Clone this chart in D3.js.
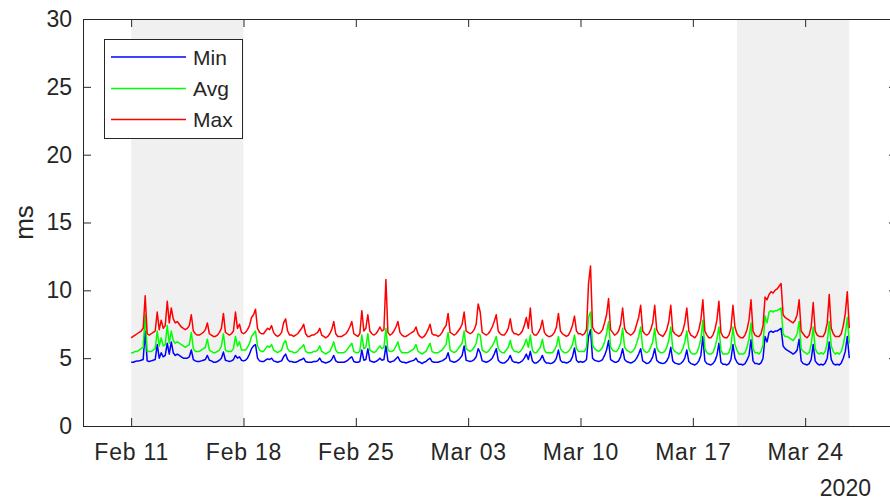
<!DOCTYPE html>
<html>
<head>
<meta charset="utf-8">
<script src="https://cdn.jsdelivr.net/npm/d3@7"></script>
<style>
  html, body { margin: 0; padding: 0; background: #fff; }
  svg { display: block; }
  text { font-family: "Liberation Sans", Arial, Helvetica, sans-serif; fill: #262626; }
</style>
</head>
<body>
<svg id="chart" width="890" height="500"></svg>
<script>
// ---------------- DATA ----------------
// Samples every 3 hours starting 2020-02-11 00:00 (8 per day: 00,03,06,09,12,15,18,21)
const startTime = "2020-02-11T00:00:00Z";
const stepHours = 3;
const seriesNames = ["Min", "Avg", "Max"];

const maxVals = [
  6.5, 6.6, 6.7, 6.8, 6.9, 7.0, 7.2, 9.6,   // Feb 11
  6.8, 6.7, 6.8, 6.9, 7.0, 8.4, 7.1, 7.8,   // Feb 12
  7.2, 7.4, 9.2, 7.6, 8.7, 7.9, 7.6, 7.7,   // Feb 13
  7.5, 7.3, 7.2, 7.1, 7.2, 7.4, 8.2, 7.0,   // Feb 14
  6.8, 6.7, 6.7, 6.8, 6.9, 7.1, 7.6, 6.8,   // Feb 15
  6.7, 6.6, 6.6, 6.7, 6.9, 7.2, 8.3, 6.9,   // Feb 16
  6.8, 6.7, 6.8, 7.0, 8.4, 7.2, 7.5, 6.9,   // Feb 17
  6.8, 6.9, 7.1, 7.4, 8.0, 8.2, 8.6, 7.2,   // Feb 18
  6.9, 6.8, 6.8, 7.0, 7.2, 7.1, 7.4, 6.9,   // Feb 19
  6.7, 6.6, 6.7, 6.9, 7.6, 7.9, 7.0, 6.7,   // Feb 20
  6.7, 6.6, 6.7, 6.8, 7.0, 7.2, 7.5, 6.8,   // Feb 21
  6.6, 6.6, 6.7, 6.7, 6.8, 6.9, 7.2, 6.7,   // Feb 22
  6.6, 6.5, 6.6, 6.8, 7.1, 7.7, 6.8, 6.6,   // Feb 23
  6.6, 6.6, 6.7, 6.8, 7.0, 7.3, 7.7, 6.8,   // Feb 24
  6.7, 6.6, 6.8, 8.5, 7.0, 7.2, 8.2, 7.0,   // Feb 25
  6.8, 6.7, 6.8, 7.0, 7.3, 7.0, 7.1, 10.8,  // Feb 26
  6.9, 6.7, 6.8, 7.0, 7.3, 7.7, 6.9, 6.7,   // Feb 27
  6.6, 6.6, 6.7, 6.8, 6.9, 7.0, 7.3, 6.8,   // Feb 28
  6.6, 6.5, 6.6, 6.8, 7.1, 7.5, 6.8, 6.7,   // Feb 29
  6.7, 6.6, 6.7, 6.9, 7.2, 7.4, 8.3, 6.9,   // Mar 01
  6.8, 6.7, 6.8, 7.0, 7.2, 7.5, 8.4, 7.0,   // Mar 02
  6.9, 6.8, 6.9, 7.1, 7.5, 9.0, 8.4, 6.9,   // Mar 03
  6.8, 6.7, 6.8, 7.0, 7.3, 7.7, 8.2, 7.0,   // Mar 04
  6.8, 6.7, 6.7, 6.9, 7.2, 7.9, 7.0, 6.8,   // Mar 05
  6.8, 6.7, 6.8, 7.0, 7.4, 8.0, 7.2, 8.7,   // Mar 06
  6.9, 6.7, 6.7, 6.9, 7.2, 7.8, 6.9, 6.7,   // Mar 07
  6.6, 6.6, 6.7, 6.9, 7.3, 8.3, 7.0, 6.8,   // Mar 08
  6.7, 6.6, 6.7, 7.0, 7.4, 8.1, 7.0, 6.8,   // Mar 09
  6.8, 6.7, 6.8, 7.1, 10.5, 11.8, 7.3, 7.0, // Mar 10
  6.9, 6.8, 6.9, 7.1, 7.6, 8.2, 9.4, 7.1,   // Mar 11
  6.9, 6.7, 6.8, 7.0, 7.5, 8.7, 7.2, 6.9,   // Mar 12
  6.8, 6.7, 6.8, 7.0, 7.5, 8.0, 8.9, 7.0,   // Mar 13
  6.8, 6.7, 6.8, 7.1, 7.6, 8.9, 7.1, 6.8,   // Mar 14
  6.7, 6.6, 6.8, 7.1, 7.7, 8.9, 7.0, 6.8,   // Mar 15
  6.7, 6.6, 6.7, 7.0, 7.6, 8.7, 7.0, 6.7,   // Mar 16
  6.6, 6.5, 6.7, 7.1, 7.8, 9.3, 7.0, 6.7,   // Mar 17
  6.5, 6.5, 6.7, 7.1, 7.8, 9.2, 6.9, 6.6,   // Mar 18
  6.5, 6.5, 6.7, 7.2, 8.9, 7.3, 6.8, 6.6,   // Mar 19
  6.5, 6.5, 6.7, 7.1, 7.8, 9.3, 7.0, 6.7,   // Mar 20
  6.6, 6.6, 6.8, 7.4, 9.5, 9.3, 9.7, 9.9,   // Mar 21
  9.8, 10.0, 10.1, 10.3, 10.5, 8.2, 8.0, 7.9, // Mar 22
  7.8, 7.7, 7.6, 7.8, 8.2, 9.3, 7.0, 6.8,   // Mar 23
  6.6, 6.5, 6.7, 7.3, 9.1, 7.0, 6.7, 6.6,   // Mar 24
  6.6, 6.6, 6.9, 7.6, 9.7, 7.2, 6.8, 6.6,   // Mar 25
  6.6, 6.6, 6.8, 7.4, 8.3, 9.9, 7.2         // Mar 26
];

const avgVals = [
  5.4, 5.4, 5.5, 5.5, 5.6, 5.7, 5.8, 8.2,   // Feb 11
  5.5, 5.5, 5.5, 5.6, 5.7, 7.0, 5.9, 6.5,   // Feb 12
  5.9, 6.0, 7.4, 6.1, 7.0, 6.3, 6.1, 6.2,   // Feb 13
  6.1, 6.0, 5.9, 5.8, 5.9, 6.0, 6.9, 5.7,   // Feb 14
  5.5, 5.5, 5.5, 5.6, 5.7, 5.8, 6.4, 5.6,   // Feb 15
  5.5, 5.4, 5.4, 5.5, 5.6, 5.9, 6.8, 5.6,   // Feb 16
  5.5, 5.5, 5.5, 5.7, 6.6, 5.9, 6.2, 5.6,   // Feb 17
  5.6, 5.6, 5.8, 6.1, 6.6, 6.8, 7.0, 5.9,   // Feb 18
  5.6, 5.5, 5.5, 5.7, 5.9, 5.8, 6.0, 5.6,   // Feb 19
  5.5, 5.4, 5.5, 5.6, 6.1, 6.3, 5.7, 5.5,   // Feb 20
  5.5, 5.4, 5.4, 5.5, 5.7, 5.8, 6.0, 5.5,   // Feb 21
  5.4, 5.4, 5.4, 5.5, 5.5, 5.6, 5.9, 5.5,   // Feb 22
  5.4, 5.3, 5.4, 5.5, 5.8, 6.2, 5.6, 5.4,   // Feb 23
  5.4, 5.4, 5.4, 5.5, 5.7, 5.9, 6.1, 5.5,   // Feb 24
  5.4, 5.4, 5.5, 6.7, 5.7, 5.8, 6.8, 5.6,   // Feb 25
  5.5, 5.4, 5.5, 5.7, 5.9, 5.7, 5.8, 7.2,   // Feb 26
  5.6, 5.5, 5.5, 5.6, 5.9, 6.2, 5.6, 5.4,   // Feb 27
  5.4, 5.4, 5.4, 5.5, 5.6, 5.7, 6.0, 5.5,   // Feb 28
  5.4, 5.3, 5.4, 5.5, 5.8, 6.1, 5.5, 5.4,   // Feb 29
  5.4, 5.4, 5.5, 5.6, 5.8, 6.0, 6.9, 5.6,   // Mar 01
  5.5, 5.4, 5.5, 5.7, 5.9, 6.1, 7.0, 5.7,   // Mar 02
  5.6, 5.5, 5.6, 5.8, 6.1, 6.8, 6.7, 5.6,   // Mar 03
  5.5, 5.4, 5.5, 5.7, 5.9, 6.2, 6.6, 5.7,   // Mar 04
  5.5, 5.4, 5.4, 5.6, 5.8, 6.3, 5.7, 5.5,   // Mar 05
  5.5, 5.4, 5.5, 5.7, 6.0, 6.4, 5.8, 6.7,   // Mar 06
  5.6, 5.4, 5.4, 5.6, 5.8, 6.4, 5.6, 5.4,   // Mar 07
  5.4, 5.4, 5.4, 5.6, 5.9, 6.6, 5.7, 5.5,   // Mar 08
  5.4, 5.4, 5.5, 5.7, 6.0, 6.7, 5.7, 5.5,   // Mar 09
  5.5, 5.5, 5.5, 5.8, 8.0, 8.4, 6.0, 5.7,   // Mar 10
  5.6, 5.5, 5.6, 5.8, 6.2, 6.8, 7.7, 5.8,   // Mar 11
  5.6, 5.5, 5.5, 5.7, 6.1, 7.2, 5.8, 5.6,   // Mar 12
  5.5, 5.4, 5.5, 5.7, 6.1, 6.6, 7.3, 5.7,   // Mar 13
  5.5, 5.4, 5.5, 5.8, 6.2, 7.2, 5.8, 5.5,   // Mar 14
  5.4, 5.4, 5.5, 5.8, 6.3, 7.3, 5.7, 5.5,   // Mar 15
  5.4, 5.3, 5.4, 5.7, 6.2, 7.0, 5.7, 5.4,   // Mar 16
  5.3, 5.3, 5.4, 5.8, 6.4, 7.8, 5.7, 5.4,   // Mar 17
  5.3, 5.3, 5.4, 5.8, 6.4, 7.3, 5.6, 5.3,   // Mar 18
  5.3, 5.3, 5.4, 5.9, 7.3, 6.0, 5.6, 5.3,   // Mar 19
  5.3, 5.3, 5.4, 5.8, 6.4, 7.6, 5.7, 5.4,   // Mar 20
  5.4, 5.3, 5.5, 6.0, 8.1, 7.6, 8.4, 8.5,   // Mar 21
  8.4, 8.5, 8.5, 8.6, 8.7, 6.8, 6.6, 6.6,   // Mar 22
  6.5, 6.4, 6.3, 6.5, 6.8, 7.7, 5.7, 5.5,   // Mar 23
  5.4, 5.3, 5.4, 6.0, 7.3, 5.7, 5.4, 5.3,   // Mar 24
  5.4, 5.3, 5.5, 6.1, 7.7, 5.9, 5.5, 5.3,   // Mar 25
  5.4, 5.3, 5.5, 6.0, 6.8, 8.0, 6.1         // Mar 26
];

const minVals = [
  4.7, 4.7, 4.75, 4.8, 4.8, 4.85, 4.9, 7.0,    // Feb 11
  4.8, 4.75, 4.8, 4.85, 4.9, 6.0, 5.0, 5.4,    // Feb 12
  5.1, 5.2, 6.1, 5.3, 6.2, 5.4, 5.2, 5.3,      // Feb 13
  5.2, 5.1, 5.0, 5.0, 5.0, 5.1, 5.6, 4.9,      // Feb 14
  4.8, 4.75, 4.75, 4.8, 4.85, 4.9, 5.2, 4.85,  // Feb 15
  4.8, 4.7, 4.7, 4.75, 4.85, 5.0, 5.45, 4.85,  // Feb 16
  4.8, 4.75, 4.8, 4.9, 5.2, 5.0, 5.1, 4.85,    // Feb 17
  4.8, 4.85, 5.0, 5.3, 5.7, 5.9, 6.0, 5.0,     // Feb 18
  4.8, 4.75, 4.75, 4.85, 4.95, 4.9, 5.0, 4.8,  // Feb 19
  4.75, 4.7, 4.75, 4.8, 5.1, 5.3, 4.9, 4.75,   // Feb 20
  4.75, 4.7, 4.7, 4.75, 4.85, 4.9, 5.0, 4.75,  // Feb 21
  4.7, 4.7, 4.7, 4.75, 4.75, 4.8, 5.0, 4.75,   // Feb 22
  4.7, 4.65, 4.7, 4.75, 4.9, 5.2, 4.8, 4.7,    // Feb 23
  4.7, 4.7, 4.7, 4.75, 4.85, 5.0, 5.1, 4.75,   // Feb 24
  4.7, 4.7, 4.75, 5.6, 4.85, 4.9, 5.7, 4.8,    // Feb 25
  4.75, 4.7, 4.75, 4.85, 5.0, 4.85, 4.9, 5.9,  // Feb 26
  4.8, 4.7, 4.75, 4.8, 4.95, 5.1, 4.8, 4.7,    // Feb 27
  4.7, 4.65, 4.7, 4.75, 4.8, 4.85, 5.0, 4.75,  // Feb 28
  4.7, 4.6, 4.7, 4.75, 4.9, 5.0, 4.75, 4.7,    // Feb 29
  4.7, 4.7, 4.75, 4.8, 4.9, 5.0, 5.4, 4.8,     // Mar 01
  4.75, 4.7, 4.75, 4.85, 5.0, 5.2, 5.9, 4.85,  // Mar 02
  4.8, 4.75, 4.8, 4.9, 5.1, 5.7, 5.4, 4.8,     // Mar 03
  4.75, 4.7, 4.75, 4.85, 5.0, 5.3, 5.7, 4.85,  // Mar 04
  4.7, 4.65, 4.65, 4.75, 4.9, 5.2, 4.8, 4.7,   // Mar 05
  4.7, 4.65, 4.7, 4.8, 5.0, 5.3, 4.9, 5.5,     // Mar 06
  4.8, 4.65, 4.65, 4.75, 4.9, 5.2, 4.8, 4.65,  // Mar 07
  4.65, 4.6, 4.65, 4.75, 5.0, 5.6, 4.85, 4.7,  // Mar 08
  4.7, 4.65, 4.7, 4.8, 5.1, 5.75, 4.85, 4.7,   // Mar 09
  4.75, 4.7, 4.75, 4.9, 6.6, 7.1, 5.0, 4.85,   // Mar 10
  4.8, 4.75, 4.8, 4.9, 5.2, 5.6, 6.3, 4.9,     // Mar 11
  4.8, 4.7, 4.7, 4.8, 5.1, 5.7, 4.9, 4.75,     // Mar 12
  4.7, 4.65, 4.7, 4.8, 5.0, 5.3, 5.7, 4.8,     // Mar 13
  4.7, 4.6, 4.65, 4.8, 5.1, 5.7, 4.85, 4.7,    // Mar 14
  4.65, 4.6, 4.65, 4.8, 5.1, 5.8, 4.8, 4.65,   // Mar 15
  4.6, 4.55, 4.6, 4.75, 5.0, 5.6, 4.75, 4.6,   // Mar 16
  4.55, 4.5, 4.6, 4.8, 5.2, 6.6, 4.8, 4.6,     // Mar 17
  4.55, 4.5, 4.6, 4.8, 5.2, 6.1, 4.7, 4.55,    // Mar 18
  4.55, 4.5, 4.6, 4.9, 6.0, 5.0, 4.7, 4.55,    // Mar 19
  4.55, 4.5, 4.6, 4.85, 5.2, 6.35, 4.8, 4.6,   // Mar 20
  4.6, 4.55, 4.65, 5.0, 6.6, 6.2, 6.9, 7.0,    // Mar 21
  6.9, 7.0, 7.0, 7.1, 7.2, 5.9, 5.7, 5.6,      // Mar 22
  5.5, 5.4, 5.3, 5.4, 5.6, 6.4, 4.8, 4.6,      // Mar 23
  4.55, 4.5, 4.6, 4.9, 6.0, 4.8, 4.6, 4.5,     // Mar 24
  4.55, 4.5, 4.65, 5.0, 6.2, 4.9, 4.6, 4.5,    // Mar 25
  4.55, 4.5, 4.65, 5.0, 5.5, 6.6, 5.0          // Mar 26
];

const xDomain = ["2020-02-08T00:00:00Z", "2020-03-29T17:20:00Z"];
const tickDates = ["2020-02-11", "2020-02-18", "2020-02-25", "2020-03-03", "2020-03-10", "2020-03-17", "2020-03-24"];
const tickLabels = ["Feb 11", "Feb 18", "Feb 25", "Mar 03", "Mar 10", "Mar 17", "Mar 24"];
const yTicks = [0, 5, 10, 15, 20, 25, 30];
const shadedPeriods = [
  ["2020-02-11T00:00:00Z", "2020-02-18T00:00:00Z"],
  ["2020-03-19T18:00:00Z", "2020-03-26T18:00:00Z"]
];
const yearLabel = "2020";
const yLabel = "ms";

// ---------------- CHART ----------------
const margin = { left: 83, top: 19, right: 897, bottom: 426 };
const AX = "#262626";
const colors = { Min: "#0000ff", Avg: "#00ff00", Max: "#ff0000" };

const svg = d3.select("#chart");

const x = d3.scaleUtc()
  .domain(xDomain.map(d => new Date(d)))
  .range([margin.left, margin.right]);
const y = d3.scaleLinear().domain([0, 30]).range([margin.bottom, margin.top]);

const t0 = new Date(startTime).getTime();
const n = Math.min(maxVals.length, avgVals.length, minVals.length);
const times = d3.range(n).map(i => new Date(t0 + i * stepHours * 3600e3));

svg.append("defs").append("clipPath").attr("id", "plotclip")
  .append("rect").attr("x", margin.left).attr("y", margin.top)
  .attr("width", margin.right - margin.left).attr("height", margin.bottom - margin.top);

// shaded periods
svg.append("g").selectAll("rect").data(shadedPeriods).join("rect")
  .attr("x", d => x(new Date(d[0])))
  .attr("width", d => x(new Date(d[1])) - x(new Date(d[0])))
  .attr("y", margin.top)
  .attr("height", margin.bottom - margin.top)
  .attr("fill", "#f0f0f0");

// lines
const series = [
  { name: "Min", values: minVals },
  { name: "Avg", values: avgVals },
  { name: "Max", values: maxVals }
];
const line = d3.line().x((d, i) => x(times[i])).y(d => y(d));
svg.append("g").attr("clip-path", "url(#plotclip)")
  .selectAll("path").data(series).join("path")
  .attr("d", s => line(s.values.slice(0, n)))
  .attr("fill", "none")
  .attr("stroke", s => colors[s.name])
  .attr("stroke-width", 1.5)
  .attr("stroke-linejoin", "round");

// axes
const tickDateObjs = tickDates.map(d => new Date(d + "T00:00:00Z"));
const fontSize = 23;

const xAxis = d3.axisBottom(x).tickValues(tickDateObjs)
  .tickFormat((d, i) => tickLabels[i]).tickSizeInner(-8).tickSizeOuter(0).tickPadding(18);
const gx = svg.append("g").attr("transform", `translate(0,${margin.bottom})`).call(xAxis);
gx.select(".domain").remove();
gx.selectAll(".tick line").attr("stroke", AX);
gx.selectAll(".tick text").attr("font-size", fontSize).attr("fill", AX)
  .attr("letter-spacing", "0.8px")
  .style("font-family", "'Liberation Sans', Arial, sans-serif");

const xTop = d3.axisTop(x).tickValues(tickDateObjs).tickFormat("").tickSizeInner(-8).tickSizeOuter(0);
const gxt = svg.append("g").attr("transform", `translate(0,${margin.top})`).call(xTop);
gxt.select(".domain").remove();
gxt.selectAll(".tick line").attr("stroke", AX);

const yAxis = d3.axisLeft(y).tickValues(yTicks).tickFormat(d3.format("d"))
  .tickSizeInner(-8).tickSizeOuter(0).tickPadding(11);
const gy = svg.append("g").attr("transform", `translate(${margin.left},0)`).call(yAxis);
gy.select(".domain").remove();
gy.selectAll(".tick line").attr("stroke", AX);
gy.selectAll(".tick text").attr("font-size", fontSize).attr("fill", AX)
  .style("font-family", "'Liberation Sans', Arial, sans-serif");

const yRight = d3.axisRight(y).tickValues(yTicks).tickFormat("").tickSizeInner(-8).tickSizeOuter(0);
const gyr = svg.append("g").attr("transform", `translate(${margin.right},0)`).call(yRight);
gyr.select(".domain").remove();
gyr.selectAll(".tick line").attr("stroke", AX);

// box
svg.append("rect")
  .attr("x", margin.left + 0.5).attr("y", margin.top + 0.5)
  .attr("width", margin.right - margin.left).attr("height", margin.bottom - margin.top)
  .attr("fill", "none").attr("stroke", AX).attr("stroke-width", 1);

// y label
svg.append("text")
  .attr("transform", `translate(33,${(margin.top + margin.bottom) / 2}) rotate(-90)`)
  .attr("text-anchor", "middle")
  .attr("font-size", 26)
  .text(yLabel);

// year label
svg.append("text")
  .attr("x", 871).attr("y", 496)
  .attr("text-anchor", "end")
  .attr("font-size", fontSize)
  .text(yearLabel);

// legend
const lg = svg.append("g").attr("class", "legend");
lg.append("rect").attr("x", 104.5).attr("y", 39.5).attr("width", 138).attr("height", 99)
  .attr("fill", "#ffffff").attr("stroke", AX).attr("stroke-width", 1);
const legendY = [57, 88.5, 119.5];
lg.selectAll("line.key").data(seriesNames).join("line")
  .attr("class", "key")
  .attr("x1", 111).attr("x2", 186)
  .attr("y1", (d, i) => legendY[i]).attr("y2", (d, i) => legendY[i])
  .style("stroke", d => colors[d])
  .attr("stroke-width", 1.5);
lg.selectAll("text.key").data(seriesNames).join("text")
  .attr("class", "key")
  .attr("x", 193).attr("y", (d, i) => legendY[i]).attr("dy", "0.36em")
  .attr("font-size", 21).text(d => d);
</script>
</body>
</html>
